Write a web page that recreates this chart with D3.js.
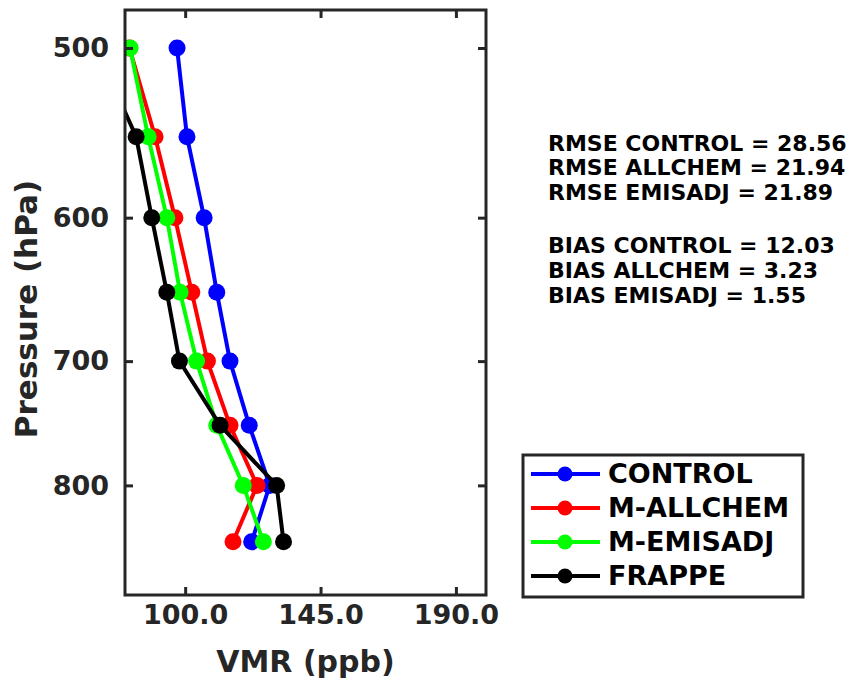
<!DOCTYPE html>
<html>
<head>
<meta charset="utf-8">
<script src="https://cdn.jsdelivr.net/npm/d3@7"></script>
<style>
  body { margin: 0; background: #fff; }
  text { font-family: "DejaVu Sans", sans-serif; font-weight: bold; }
</style>
</head>
<body>
<div id="chart"></div>
<script>
// pressure levels (hPa)
var levels = [500, 550, 600, 650, 700, 750, 800, 850];

// VMR (ppb) per series
var control  = [97.3, 100.6, 106.3, 110.5, 114.9, 121.3, 128.1, 122.1];
var allchem  = [81.5, 90.0, 96.6, 102.2, 107.4, 114.9, 123.9, 115.9];
var emisadj  = [81.7, 87.7, 93.9, 98.3, 103.8, 110.5, 119.3, 126.0];
var frappe   = [70.5, 83.7, 88.9, 93.9, 98.1, 111.6, 130.4, 132.7];

var seriesNames  = ["CONTROL", "M-ALLCHEM", "M-EMISADJ", "FRAPPE"];
var seriesColors = ["#0000ff", "#ff0000", "#00ff00", "#000000"];
var seriesValues = [control, allchem, emisadj, frappe];

var xTicks = [100, 145, 190];
var yTicks = [500, 600, 700, 800];

var statLines = [
  "RMSE CONTROL = 28.56",
  "RMSE ALLCHEM = 21.94",
  "RMSE EMISADJ = 21.89",
  "",
  "BIAS CONTROL = 12.03",
  "BIAS ALLCHEM = 3.23",
  "BIAS EMISADJ = 1.55"
];

var W = 851, H = 683;
var plotL = 125, plotR = 486, plotT = 10, plotB = 595;
var axisColor = "#262626";

var svg = d3.select("#chart").append("svg")
    .attr("width", W).attr("height", H);

var x = d3.scaleLinear().domain([80, 200]).range([plotL, plotR]);
var y = d3.scaleLog().domain([480, 900]).range([plotT, plotB]);

svg.append("clipPath").attr("id", "plotclip")
  .append("rect")
    .attr("x", plotL).attr("y", plotT)
    .attr("width", plotR - plotL).attr("height", plotB - plotT);

// series
var line = d3.line()
    .x(function(d) { return x(d.v); })
    .y(function(d) { return y(d.p); });

var plot = svg.append("g").attr("clip-path", "url(#plotclip)");
seriesValues.forEach(function(vals, i) {
  var pts = levels.map(function(p, j) { return {p: p, v: vals[j]}; });
  var g = plot.append("g");
  g.append("path")
      .datum(pts)
      .attr("d", line)
      .attr("fill", "none")
      .attr("stroke", seriesColors[i])
      .attr("stroke-width", 4);
  g.selectAll("circle")
    .data(pts.filter(function(d) { return d.v >= 80; }))
    .enter().append("circle")
      .attr("cx", function(d) { return x(d.v); })
      .attr("cy", function(d) { return y(d.p); })
      .attr("r", 8.5)
      .attr("fill", seriesColors[i]);
});

// axes (MATLAB style box, ticks inward)
function styleAxis(g) {
  g.select(".domain").remove();
  g.selectAll(".tick line").attr("stroke", axisColor).attr("stroke-width", 3);
  g.selectAll(".tick text").attr("fill", axisColor).style("font-size", "27px")
    .style("font-family", "DejaVu Sans").style("font-weight", "bold");
}

svg.append("g")
    .attr("transform", "translate(0," + plotB + ")")
    .call(d3.axisBottom(x).tickValues(xTicks).tickSize(-8).tickPadding(10)
      .tickFormat(d3.format(".1f")))
    .call(styleAxis);

svg.append("g")
    .attr("transform", "translate(0," + plotT + ")")
    .call(d3.axisTop(x).tickValues(xTicks).tickSize(-8).tickFormat(""))
    .call(styleAxis);

svg.append("g")
    .attr("transform", "translate(" + plotL + ",0)")
    .call(d3.axisLeft(y).tickValues(yTicks).tickSize(-8).tickPadding(16)
      .tickFormat(d3.format("d")))
    .call(styleAxis);

svg.append("g")
    .attr("transform", "translate(" + plotR + ",0)")
    .call(d3.axisRight(y).tickValues(yTicks).tickSize(-8).tickFormat(""))
    .call(styleAxis);

svg.append("rect")
    .attr("x", plotL).attr("y", plotT)
    .attr("width", plotR - plotL).attr("height", plotB - plotT)
    .attr("fill", "none")
    .attr("stroke", axisColor)
    .attr("stroke-width", 3);

// axis titles
svg.append("text")
    .attr("x", (plotL + plotR) / 2)
    .attr("y", 672)
    .attr("text-anchor", "middle")
    .attr("fill", axisColor)
    .style("font-size", "30px")
    .text("VMR (ppb)");

svg.append("text")
    .attr("transform", "translate(37,309) rotate(-90)")
    .attr("text-anchor", "middle")
    .attr("fill", axisColor)
    .style("font-size", "31px")
    .text("Pressure (hPa)");

// stats block
var baselines = [151, 175, 200, 0, 253, 278, 303];
svg.append("g").selectAll("text")
  .data(statLines)
  .enter().append("text")
    .attr("x", 548)
    .attr("y", function(d, i) { return baselines[i]; })
    .attr("fill", "#000")
    .style("font-size", "22px")
    .text(function(d) { return d; });

// legend
var lg = svg.append("g");
lg.append("rect")
    .attr("x", 523).attr("y", 455)
    .attr("width", 280).attr("height", 142)
    .attr("fill", "#fff")
    .attr("stroke", axisColor)
    .attr("stroke-width", 3);

seriesNames.forEach(function(name, i) {
  var ly = 474 + i * 34;
  lg.append("line")
      .attr("x1", 531).attr("x2", 600)
      .attr("y1", ly).attr("y2", ly)
      .attr("stroke", seriesColors[i])
      .attr("stroke-width", 4);
  lg.append("circle")
      .attr("cx", 565).attr("cy", ly).attr("r", 7.5)
      .attr("fill", seriesColors[i]);
  lg.append("text")
      .attr("x", 608).attr("y", ly + 9)
      .attr("fill", "#000")
      .style("font-size", "27px")
      .text(name);
});
</script>
</body>
</html>
